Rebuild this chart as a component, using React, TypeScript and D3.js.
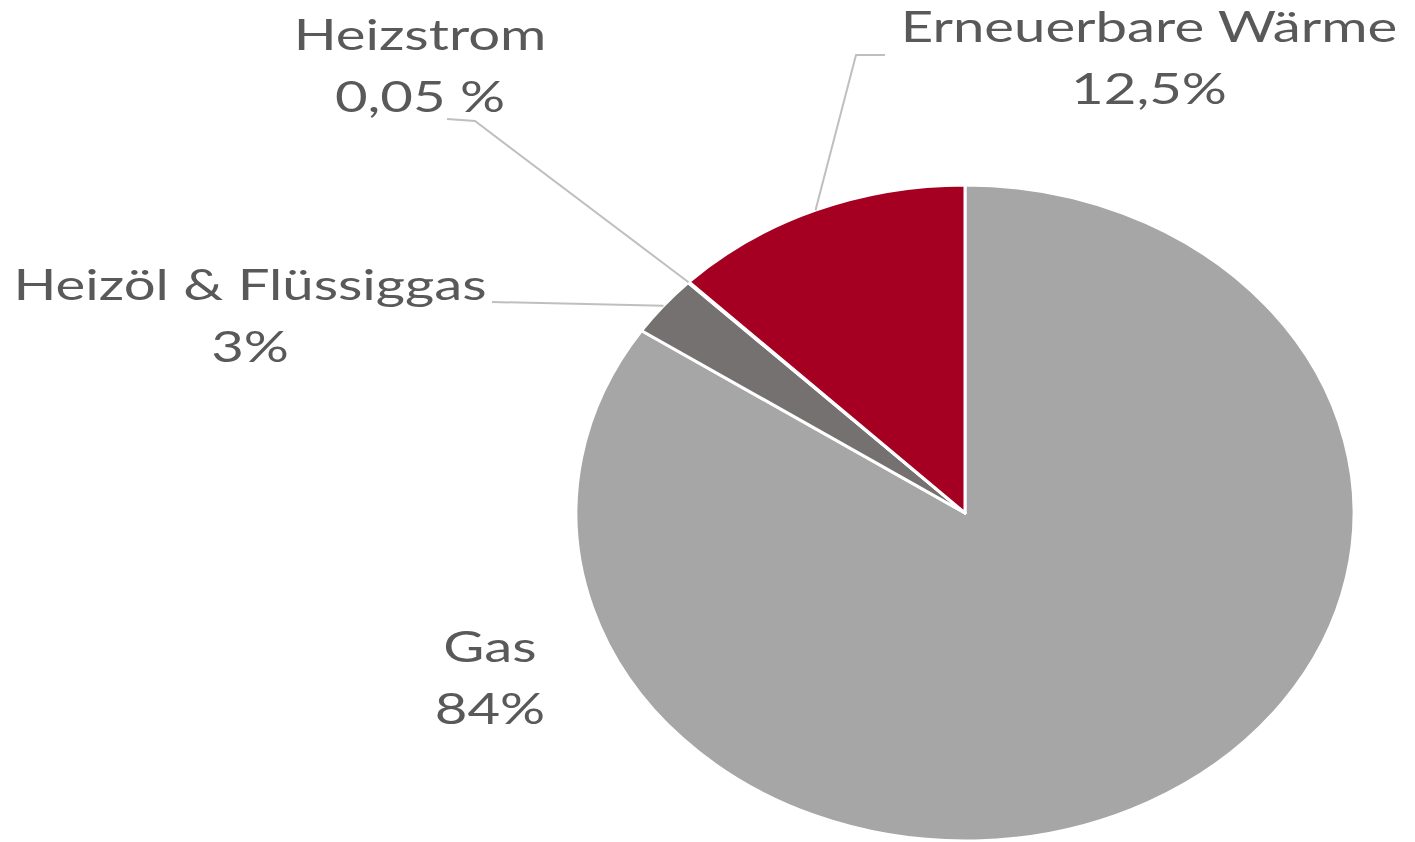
import React from "react";
import * as d3 from "d3";

const categories = ["Gas", "Heizöl & Flüssiggas", "Heizstrom", "Erneuerbare Wärme"];
const values = [84, 3, 0.05, 12.5];
const valueLabels = ["84%", "3%", "0,05 %", "12,5%"];
const colors = ["#a6a6a6", "#767171", "#8c8c8c", "#a50021"];

const W = 1415;
const H = 842;
const cx = 965;
const cy = 513;
const rx = 389;
const ry = 328;
const sx = rx / ry;
const textSx = 1.34;

// label layout: [center x, first baseline y, leader elbow points]
const labelPos: { x: number; y: number; leader: [number, number][] | null }[] = [
  { x: 490, y: 662, leader: null },
  { x: 250, y: 300, leader: [[492, 302]] },
  { x: 420, y: 50, leader: [[447, 119], [475, 121]] },
  { x: 1149, y: 42, leader: [[885, 55], [856, 55]] },
];

export default function App() {
  const pie = d3.pie<number>().sort(null).value((d) => d).startAngle(0).endAngle(2 * Math.PI);
  const arcs = pie(values);
  const arc = d3.arc<d3.PieArcDatum<number>>().innerRadius(0).outerRadius(ry);
  const font = "Lato, 'Open Sans', sans-serif";
  const fs = 42;
  const lineH = 62;

  const edgePoint = (a: d3.PieArcDatum<number>): [number, number] => {
    const m = (a.startAngle + a.endAngle) / 2;
    return [cx + rx * Math.sin(m), cy - ry * Math.cos(m)];
  };

  return (
    <svg width={W} height={H} style={{ position: "absolute", left: 0, top: 0, background: "#fff" }}>
      <g transform={`translate(${cx},${cy}) scale(${sx},1)`}>
        {arcs.map((a, i) => (
          <path
            key={i}
            d={arc(a) || ""}
            fill={colors[i]}
            stroke="#ffffff"
            strokeWidth={3}
            strokeLinejoin="round"
            vectorEffect="non-scaling-stroke"
          />
        ))}
      </g>
      {arcs.map((a, i) => {
        const lp = labelPos[i];
        if (!lp.leader) return null;
        const pts = [...lp.leader, edgePoint(a)];
        const line = d3.line()(pts as [number, number][]) || "";
        return <path key={"l" + i} d={line} fill="none" stroke="#bfbfbf" strokeWidth={2} />;
      })}
      {categories.map((c, i) => {
        const lp = labelPos[i];
        return (
          <g key={"t" + i} fill="#595959" fontFamily={font} fontSize={fs}>
            <text transform={`translate(${lp.x},${lp.y}) scale(${textSx},1)`} textAnchor="middle">
              {c}
            </text>
            <text transform={`translate(${lp.x},${lp.y + lineH}) scale(${textSx},1)`} textAnchor="middle">
              {valueLabels[i]}
            </text>
          </g>
        );
      })}
    </svg>
  );
}
